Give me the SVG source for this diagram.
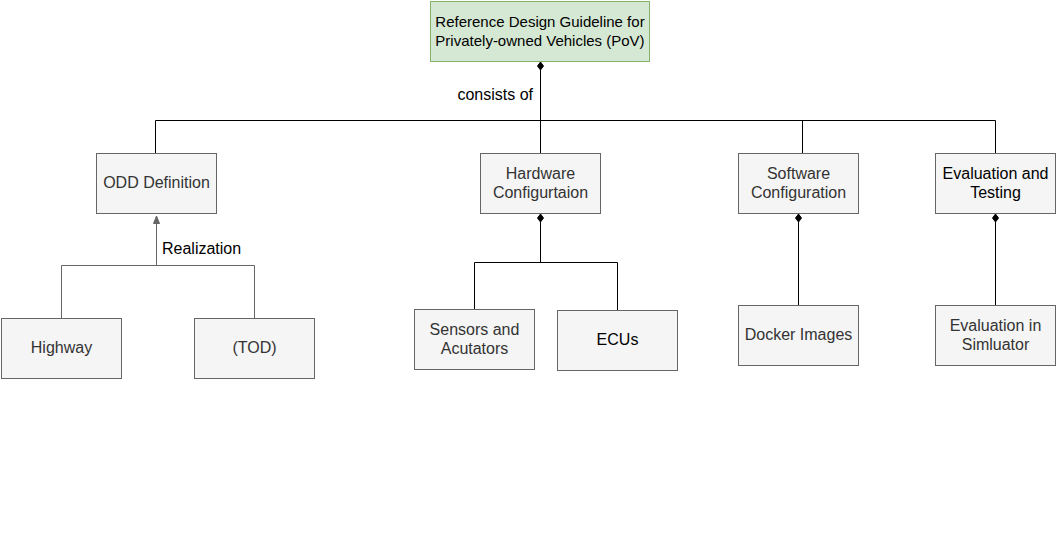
<svg xmlns="http://www.w3.org/2000/svg" width="1056" height="537" viewBox="0 0 1056 537">
<style>
.box{fill:#f5f5f5;stroke:#666666;stroke-width:1}
.root{fill:#d5e8d4;stroke:#82b366;stroke-width:1}
.t{font-family:"Liberation Sans",Arial,Helvetica,sans-serif;font-size:16px;fill:#333333;text-anchor:middle}
.tb{fill:#000000}
.lbl{font-family:"Liberation Sans",Arial,Helvetica,sans-serif;font-size:16px;fill:#000000}
.ln{fill:none;stroke:#000000;stroke-width:1}
.lg{fill:none;stroke:#666666;stroke-width:1}
.dia{fill:#000000;stroke:#000000;stroke-width:1}
.tri{fill:#666666;stroke:#666666;stroke-width:1}
</style>
<rect width="1056" height="537" fill="#ffffff"/>
<g id="connectors">
  <polygon class="dia" points="540.5,62 543.5,66 540.5,70 537.5,66"/>
  <path class="ln" d="M540.5 70 V120.5"/>
  <path class="ln" d="M155.5 153 V120.5 H995.5 V153"/>
  <path class="ln" d="M540.5 120.5 V153"/>
  <path class="ln" d="M802.5 120.5 V153"/>
  <text class="lbl" x="533" y="100" text-anchor="end">consists of</text>

  <path class="lg" d="M61.5 318 V265.5 H254.5 V318"/>
  <path class="lg" d="M156.5 265.5 V223"/>
  <polygon class="tri" points="156.5,216 153.5,223.5 159.5,223.5"/>
  <text class="lbl" x="162" y="254">Realization</text>

  <polygon class="dia" points="540.5,214 543.5,218 540.5,222 537.5,218"/>
  <path class="ln" d="M540.5 222 V262.5"/>
  <path class="ln" d="M474.5 309 V262.5 H617.5 V310"/>

  <polygon class="dia" points="798.5,214 801.5,218 798.5,222 795.5,218"/>
  <path class="ln" d="M798.5 222 V305"/>

  <polygon class="dia" points="995.5,214 998.5,218 995.5,222 992.5,218"/>
  <path class="ln" d="M995.5 222 V305"/>
</g>
<g id="root">
  <rect class="root" x="430.5" y="1.5" width="219" height="60"/>
  <text class="t tb" style="font-size:15px" x="540" y="27">Reference Design Guideline for</text>
  <text class="t tb" style="font-size:15px" x="540" y="46">Privately-owned Vehicles (PoV)</text>
</g>
<g id="odd">
  <rect class="box" x="96.5" y="153.5" width="120" height="60"/>
  <text class="t" x="156.5" y="187.5">ODD Definition</text>
</g>
<g id="hardware">
  <rect class="box" x="480.5" y="153.5" width="120" height="60"/>
  <text class="t" x="540.5" y="178.5">Hardware</text>
  <text class="t" x="540.5" y="197.5">Configurtaion</text>
</g>
<g id="software">
  <rect class="box" x="738.5" y="153.5" width="120" height="60"/>
  <text class="t" x="798.5" y="178.5">Software</text>
  <text class="t" x="798.5" y="197.5">Configuration</text>
</g>
<g id="evaluation">
  <rect class="box" x="935.5" y="153.5" width="120" height="60"/>
  <text class="t tb" x="995.5" y="178.5">Evaluation and</text>
  <text class="t tb" x="995.5" y="197.5">Testing</text>
</g>
<g id="highway">
  <rect class="box" x="1.5" y="318.5" width="120" height="60"/>
  <text class="t" x="61.5" y="352.5">Highway</text>
</g>
<g id="tod">
  <rect class="box" x="194.5" y="318.5" width="120" height="60"/>
  <text class="t" x="254.5" y="352.5">(TOD)</text>
</g>
<g id="sensors">
  <rect class="box" x="414.5" y="309.5" width="120" height="60"/>
  <text class="t" x="474.5" y="334.5">Sensors and</text>
  <text class="t" x="474.5" y="353.5">Acutators</text>
</g>
<g id="ecus">
  <rect class="box" x="557.5" y="310.5" width="120" height="60"/>
  <text class="t tb" x="617.5" y="344.5">ECUs</text>
</g>
<g id="docker">
  <rect class="box" x="738.5" y="305.5" width="120" height="60"/>
  <text class="t" x="798.5" y="339.5">Docker Images</text>
</g>
<g id="simulator">
  <rect class="box" x="935.5" y="305.5" width="120" height="60"/>
  <text class="t" x="995.5" y="330.5">Evaluation in</text>
  <text class="t" x="995.5" y="349.5">Simluator</text>
</g>
</svg>
